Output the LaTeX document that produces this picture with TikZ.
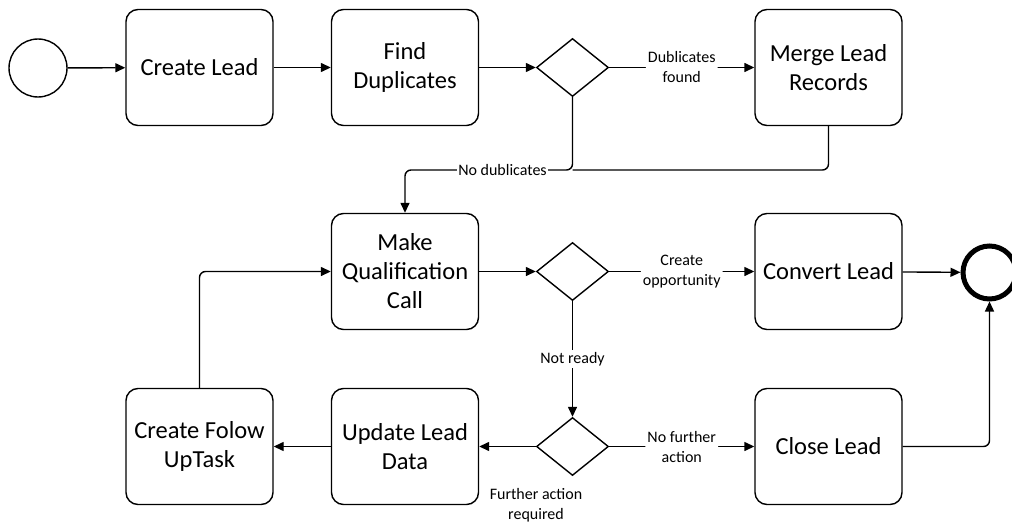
\documentclass[tikz,border=0pt]{standalone}
\usepackage{fontspec}
\setmainfont{Carlito}
\usetikzlibrary{shapes.geometric,arrows.meta,calc}
\begin{document}
\begin{tikzpicture}[x=1pt,y=-1pt,
  task/.style={draw,line width=1.4pt,rounded corners=12pt,minimum width=147pt,minimum height=116pt,align=center,font=\fontsize{24.5}{29}\selectfont,inner sep=0pt},
  gate/.style={draw,line width=1.4pt,diamond,minimum width=72pt,minimum height=58pt,inner sep=0pt,aspect=1.24},
  flow/.style={line width=1.4pt,rounded corners=6pt,-{Triangle[length=10pt,width=9pt]}},
  plain/.style={line width=1.4pt,rounded corners=6pt},
  lbl/.style={fill=white,align=center,font=\fontsize{16}{20}\selectfont,inner sep=2pt},
]
\useasboundingbox (0,0) rectangle (1012,527);

% events
\node[draw,circle,line width=1.4pt,minimum size=58pt,inner sep=0pt] (start) at (38,68) {};
\node[draw,circle,line width=5pt,minimum size=53pt,inner sep=0pt] (finish) at (989.5,272.5) {};

% tasks
\node[task] (create) at (199.5,67.5) {Create Lead};
\node[task] (find)   at (405,67.5)   {Find\\Duplicates};
\node[task] (merge)  at (828.5,67.5) {Merge Lead\\Records};
\node[task] (qual)   at (405,271.5)  {Make\\Qualification\\Call};
\node[task] (conv)   at (828.5,271.5){Convert Lead};
\node[task] (follow) at (199.5,446.5){Create Folow\\UpTask};
\node[task] (update) at (405,446.5)  {Update Lead\\Data};
\node[task] (close)  at (828.5,446.5){Close Lead};

% gateways
\node[gate] (g1) at (572.5,67.5) {};
\node[gate] (g2) at (572.5,271.5) {};
\node[gate] (g3) at (572.5,446.5) {};

% junction points of the merge return path
\coordinate (mj) at (828.5,170);
\coordinate (gj) at (572.5,170);

% sequence flows
\draw[flow] (start) -- (create);
\draw[flow] (create) -- (find);
\draw[flow] (find) -- (g1);
\draw[flow] (g1.east) -- node[lbl] {Dublicates\\found} (merge.west);
\draw[plain] (merge.south) -- (mj) -- (gj);
\draw[flow] (g1.south) -- (gj) -| (qual.north);
\node[lbl,inner sep=1pt] (nodup) at (502.5,170) {No dublicates};
\draw[flow] (qual) -- (g2);
\draw[flow] (g2.east) -- node[lbl] {Create\\opportunity} (conv.west);
\draw[flow] (conv) -- (finish);
\draw[flow] (g2.south) -- node[lbl] {Not ready} (g3.north);
\draw[flow] (g3.east) -- node[lbl] {No further\\action} (close.west);
\draw[flow] (g3.west) -- (update.east);
\node[lbl] (further) at (536,505) {Further action\\required};
\draw[flow] (update) -- (follow);
\draw[flow] (follow.north) |- (qual.west);
\draw[flow] (close.east) -| (finish.south);
\end{tikzpicture}
\end{document}
